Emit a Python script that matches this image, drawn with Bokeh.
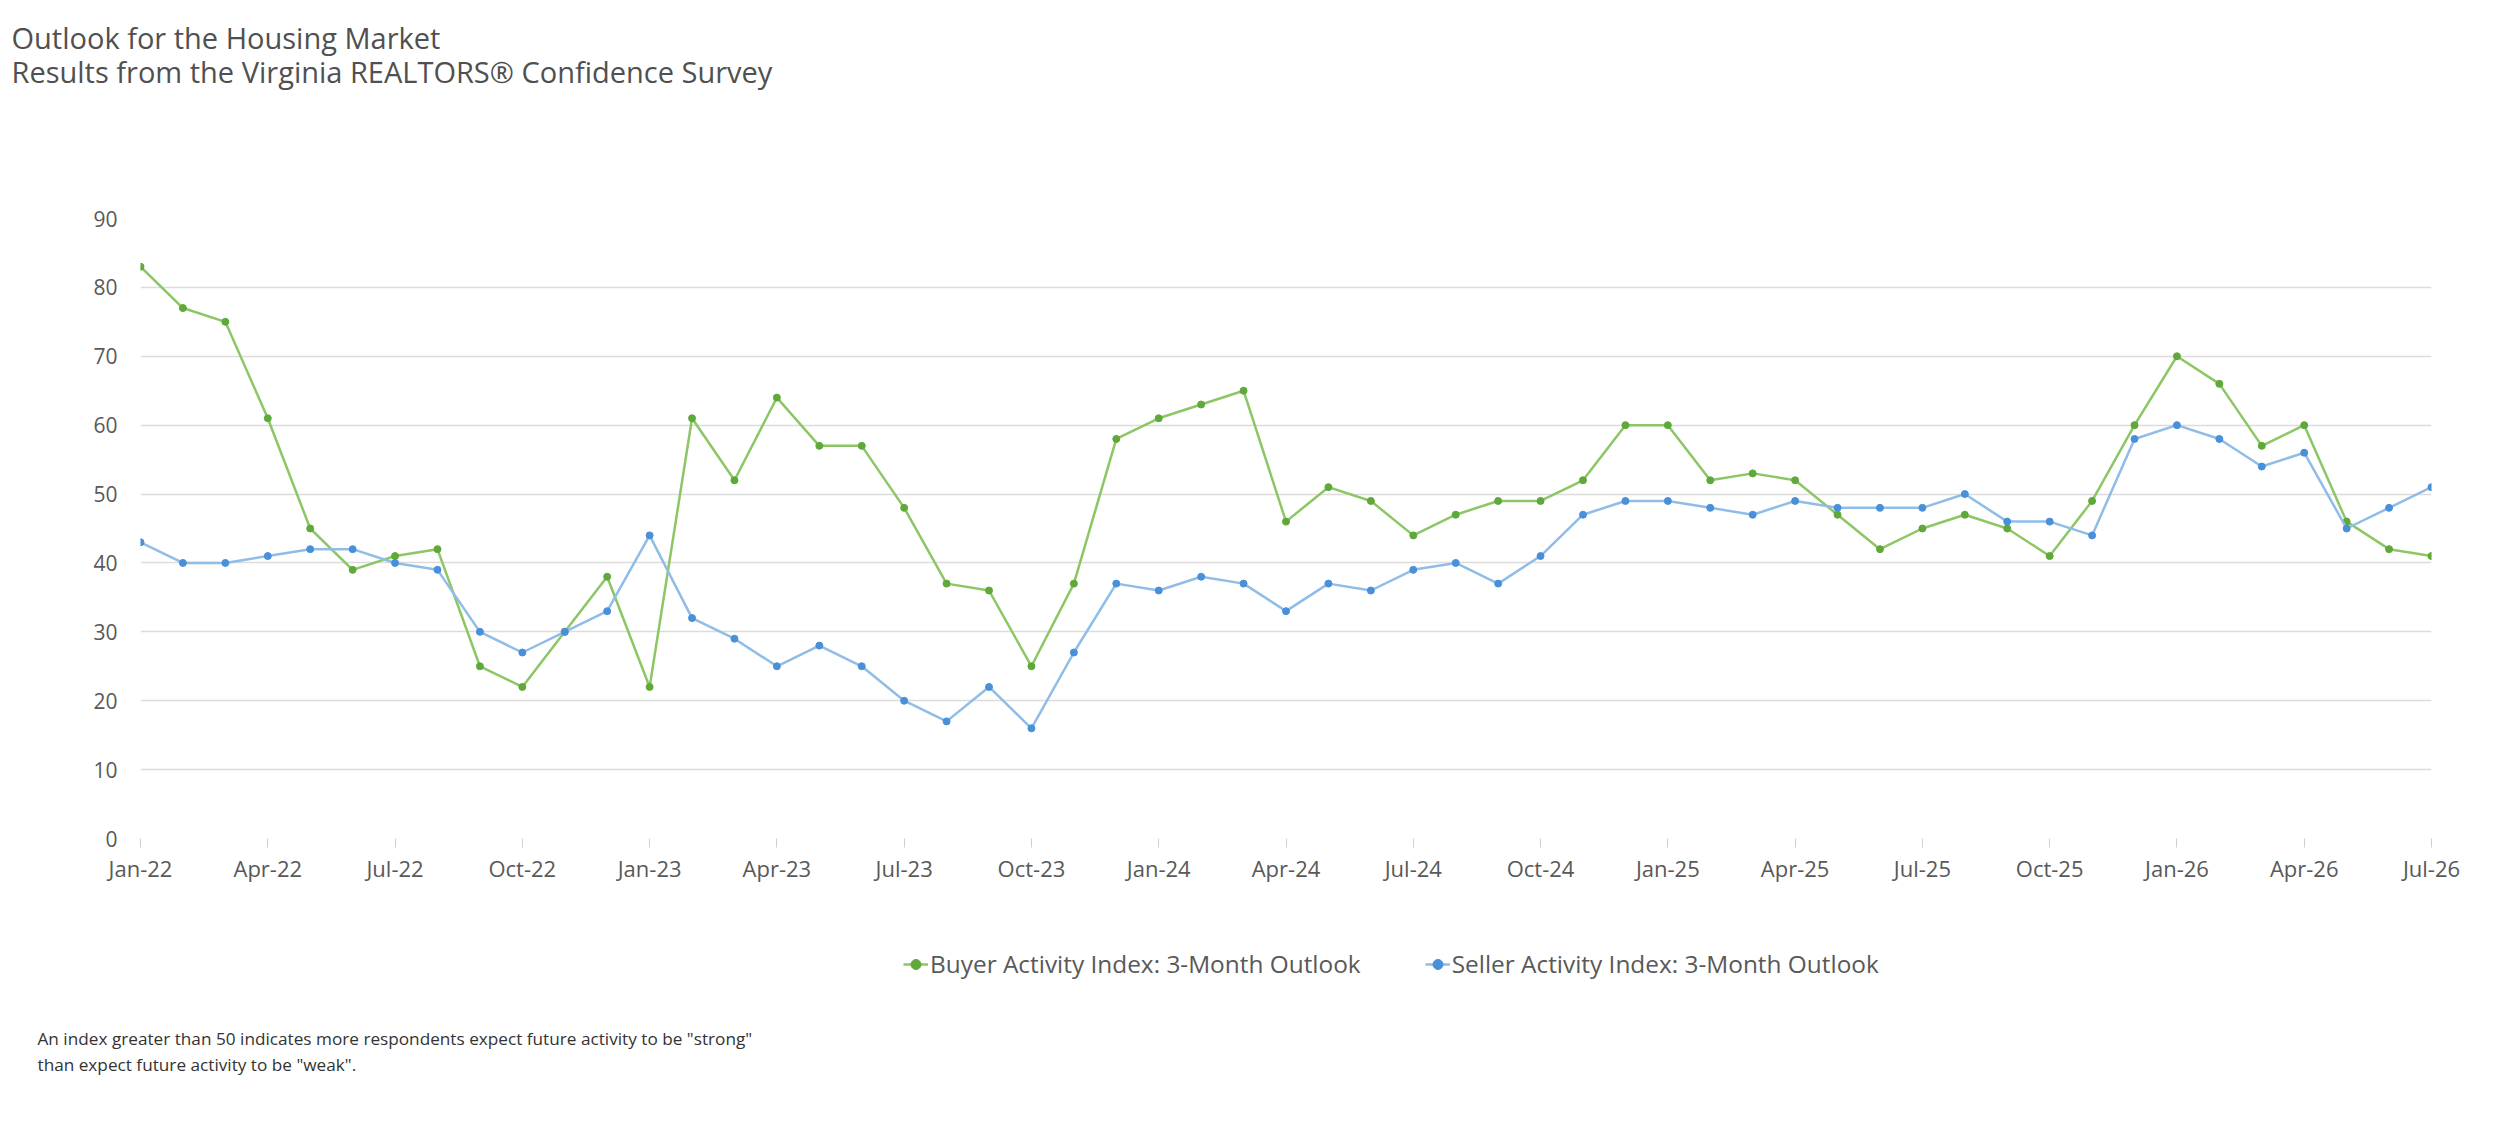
from bokeh.plotting import figure
from bokeh.models import (ColumnDataSource, FixedTicker, Label, Legend, LegendItem)
from bokeh.layouts import column
from bokeh.embed import file_html
from bokeh.resources import INLINE

# ---------------- data ----------------
month_names = ["Jan", "Feb", "Mar", "Apr", "May", "Jun",
               "Jul", "Aug", "Sep", "Oct", "Nov", "Dec"]
years = ["22", "23", "24", "25", "26"]
months = [f"{m}-{y}" for y in years for m in month_names][:55]   # Jan-22 .. Jul-26

buyer = [83, 77, 75, 61, 45, 39, 41, 42, 25, 22, 30, 38,
         22, 61, 52, 64, 57, 57, 48, 37, 36, 25, 37, 58,
         61, 63, 65, 46, 51, 49, 44, 47, 49, 49, 52, 60,
         60, 52, 53, 52, 47, 42, 45, 47, 45, 41, 49, 60,
         70, 66, 57, 60, 46, 42, 41]

seller = [43, 40, 40, 41, 42, 42, 40, 39, 30, 27, 30, 33,
          44, 32, 29, 25, 28, 25, 20, 17, 22, 16, 27, 37,
          36, 38, 37, 33, 37, 36, 39, 40, 37, 41, 47, 49,
          49, 48, 47, 49, 48, 48, 48, 50, 46, 46, 44, 58,
          60, 58, 54, 56, 45, 48, 51]

y_ticks = [0, 10, 20, 30, 40, 50, 60, 70, 80, 90]
series_names = ["Buyer Activity Index: 3-Month Outlook",
                "Seller Activity Index: 3-Month Outlook"]
title_lines = ["Outlook for the Housing Market",
               "Results from the Virginia REALTORS\u00ae Confidence Survey"]
note_lines = ['An index greater than 50 indicates more respondents expect future activity to be "strong"',
              'than expect future activity to be "weak".']

# ---------------- styling ----------------
FONT = "Open Sans"
GREEN_LINE, GREEN_DOT = "#8cc665", "#5fa83a"
BLUE_LINE, BLUE_DOT = "#8fbde8", "#4a90d9"
TXT = "#595959"
W = 2477
TOP_H, MAIN_H, BOT_H = 200, 700, 226
YOFF = 100   # bottom strip's y range starts above the data so the legend proxies stay hidden


def blank(h, y0=0):
    f = figure(width=W, height=h, output_backend="svg", toolbar_location=None,
               x_range=(0, W), y_range=(y0, y0 + h), min_border=0,
               x_axis_type=None, y_axis_type=None, frame_align=False)
    f.grid.visible = False
    f.outline_line_color = None
    return f


idx = list(range(len(months)))
src = ColumnDataSource(dict(x=idx, month=months, buyer=buyer, seller=seller))

# ---------------- title strip ----------------
top = blank(TOP_H)
for i, t in enumerate(title_lines):
    top.add_layout(Label(x=11, y=TOP_H - 37 - 34 * i, text=t, text_font=FONT,
                         text_font_size="29px", text_color="#505050",
                         text_baseline="alphabetic"))

# ---------------- main chart ----------------
p = figure(width=W, height=MAIN_H, output_backend="svg", toolbar_location=None,
           x_range=(0, len(months) - 1), y_range=(0, 90),
           min_border_left=140, min_border_right=46,
           min_border_top=18, min_border_bottom=62)
p.outline_line_color = None

p.line("x", "buyer", source=src, line_color=GREEN_LINE, line_width=2.5)
p.scatter("x", "buyer", source=src, size=7, fill_color=GREEN_DOT, line_color=GREEN_DOT)
p.line("x", "seller", source=src, line_color=BLUE_LINE, line_width=2.5)
p.scatter("x", "seller", source=src, size=7, fill_color=BLUE_DOT, line_color=BLUE_DOT)

p.xaxis.ticker = FixedTicker(ticks=idx[::3])
p.xaxis.major_label_overrides = {i: months[i] for i in idx[::3]}
p.xaxis.axis_line_color = None
p.xaxis.major_tick_line_color = "#d0d0d0"
p.xaxis.major_tick_in = 0
p.xaxis.major_tick_out = 9
p.xaxis.minor_tick_line_color = None
p.xaxis.major_label_standoff = 5
p.xaxis.major_label_text_font = FONT
p.xaxis.major_label_text_font_size = "22px"
p.xaxis.major_label_text_color = TXT

p.yaxis.ticker = FixedTicker(ticks=y_ticks)
p.yaxis.axis_line_color = None
p.yaxis.major_tick_line_color = None
p.yaxis.minor_tick_line_color = None
p.yaxis.major_tick_out = 0
p.yaxis.major_tick_in = 0
p.yaxis.major_label_standoff = 23
p.yaxis.major_label_text_font = FONT
p.yaxis.major_label_text_font_size = "21px"
p.yaxis.major_label_text_color = TXT

p.xgrid.grid_line_color = None
p.ygrid.ticker = FixedTicker(ticks=y_ticks[1:])
p.ygrid.grid_line_color = "#dcdcdc"
p.ygrid.grid_line_width = 1.5

# ---------------- legend + footnote strip ----------------
bot = blank(BOT_H, YOFF)
g1 = bot.line("x", "buyer", source=src, line_color=GREEN_LINE, line_width=2.5)
g2 = bot.scatter("x", "buyer", source=src, size=7, fill_color=GREEN_DOT, line_color=GREEN_DOT)
b1 = bot.line("x", "seller", source=src, line_color=BLUE_LINE, line_width=2.5)
b2 = bot.scatter("x", "seller", source=src, size=7, fill_color=BLUE_DOT, line_color=BLUE_DOT)

legend = Legend(items=[LegendItem(label=series_names[0], renderers=[g1, g2]),
                       LegendItem(label=series_names[1], renderers=[b1, b2])],
                orientation="horizontal", location=(903, BOT_H - 80),
                glyph_width=25, glyph_height=30, label_height=30,
                label_standoff=2, spacing=64, padding=0, margin=0,
                border_line_color=None, background_fill_alpha=0,
                label_text_font=FONT, label_text_font_size="24.4px",
                label_text_color=TXT)
bot.add_layout(legend, "center")

for i, t in enumerate(note_lines):
    bot.add_layout(Label(x=37, y=YOFF + BOT_H - 138 - 26 * i, text=t, text_font=FONT,
                         text_font_size="17.2px", text_color="#333333",
                         text_baseline="middle"))

layout = column(top, p, bot, spacing=0)
open("out.html", "w").write(file_html(layout, INLINE))
